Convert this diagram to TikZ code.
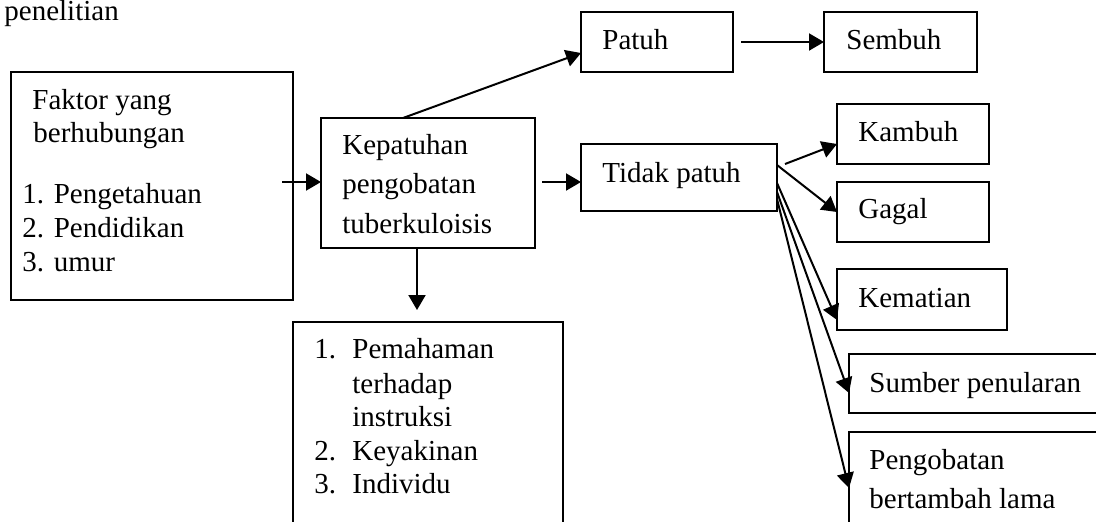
\documentclass[tikz,border=0pt]{standalone}
\usepackage{fontspec}
\setmainfont{Liberation Serif}
\usetikzlibrary{arrows.meta}
\begin{document}
\begin{tikzpicture}[x=0.5pt,y=-0.5pt,
  box/.style={draw,line width=1pt,inner sep=0pt,outer sep=0pt},
  txt/.style={anchor=base west,inner sep=0pt,font=\fontsize{14.5}{17}\selectfont},
  arr/.style={line width=1pt,-{Triangle[length=7.5pt,width=8.5pt]}},
  ln/.style={line width=1pt}]
\useasboundingbox (0,0) rectangle (1096,521);
% boxes
\node[box,minimum width=141pt,minimum height=114pt] (faktor) at (152,186) {};
\node[box,minimum width=107pt,minimum height=65pt] (kep) at (428,183) {};
\node[box,minimum width=76pt,minimum height=30pt] (patuh) at (657,42) {};
\node[box,minimum width=76.5pt,minimum height=30pt] (sembuh) at (900.5,42) {};
\node[box,minimum width=98pt,minimum height=33.5pt] (tidak) at (679,177.5) {};
\node[box,minimum width=76pt,minimum height=30pt] (kambuh) at (913,134) {};
\node[box,minimum width=76pt,minimum height=30pt] (gagal) at (913,212) {};
\node[box,minimum width=85pt,minimum height=30.5pt] (kematian) at (922,299.5) {};
\node[box,minimum width=125.5pt,minimum height=29.5pt] (sumber) at (974.5,383.5) {};
\node[box,minimum width=125.5pt,minimum height=64pt] (pengob) at (974.5,496) {};
\node[box,minimum width=135pt,minimum height=119pt] (list) at (428,441) {};
% texts
\node[txt] (t0) at (4,20) {penelitian};
\node[txt] (t1) at (32,109) {Faktor yang};
\node[txt] (t2) at (33,142) {berhubungan};
\node[txt] (t3) at (22,203) {1. Pengetahuan};
\node[txt] (t4) at (22,237) {2. Pendidikan};
\node[txt] (t5) at (22,271) {3. umur};
\node[txt] (t6) at (342,154) {Kepatuhan};
\node[txt] (t7) at (342,193) {pengobatan};
\node[txt] (t8) at (342,233) {tuberkuloisis};
\node[txt] (t9) at (314,358) {1.};
\node[txt] (t10) at (352,358) {Pemahaman};
\node[txt] (t11) at (352,393) {terhadap};
\node[txt] (t12) at (352,426) {instruksi};
\node[txt] (t13) at (314,460) {2.};
\node[txt] (t14) at (352,460) {Keyakinan};
\node[txt] (t15) at (314,493) {3.};
\node[txt] (t16) at (352,493) {Individu};
\node[txt] (t17) at (602,49) {Patuh};
\node[txt] (t18) at (846,49) {Sembuh};
\node[txt] (t19) at (602,182) {Tidak patuh};
\node[txt] (t20) at (858,141) {Kambuh};
\node[txt] (t21) at (858,218) {Gagal};
\node[txt] (t22) at (858,307) {Kematian};
\node[txt] (t23) at (869,392) {Sumber penularan};
\node[txt] (t24) at (869,469) {Pengobatan};
\node[txt] (t25) at (869,508) {bertambah lama};
% connectors
\coordinate (fstart) at (282,182);
\coordinate (kstart) at (542,182);
\draw[arr] (fstart) -- (kep.west |- fstart);
\draw[arr] (kstart) -- (tidak.west |- kstart);
\draw[arr] ([xshift=41pt]kep.north west) -- ([yshift=-5.5pt]patuh.west);
\draw[arr] ([xshift=4pt]patuh.east) -- (sembuh.west);
\draw[arr] ([xshift=-5.5pt]kep.south) -- ([xshift=-5.5pt,yshift=6pt]list.north);
\draw[arr] ([xshift=4pt,yshift=6.75pt]tidak.east) -- ([yshift=-5pt]kambuh.west);
\draw[arr] ([yshift=6.25pt]tidak.east) -- (gagal.west);
\draw[arr] ([yshift=-2.75pt]tidak.east) -- ([yshift=5pt]kematian.south west);
\draw[arr] ([yshift=-7.25pt]tidak.east) -- ([yshift=10pt]sumber.south west);
\draw[arr] ([yshift=-10.75pt]tidak.east) -- ([yshift=-28pt]pengob.north west);
\end{tikzpicture}
\end{document}
